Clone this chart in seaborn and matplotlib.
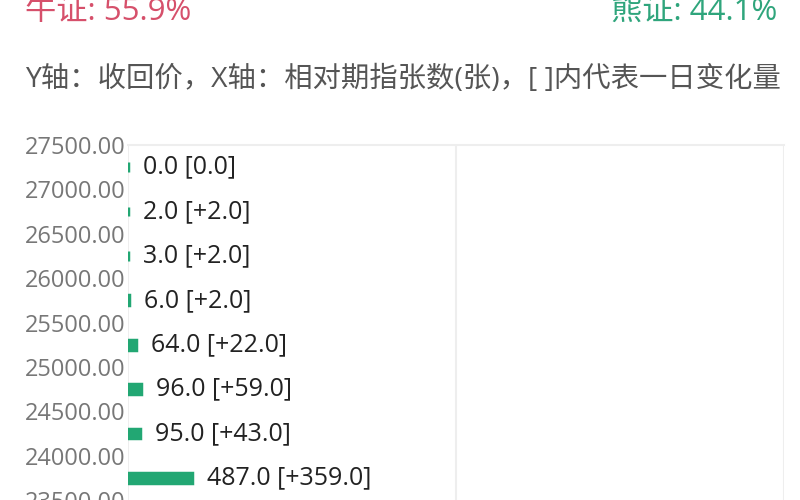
import numpy as np
import pandas as pd
import seaborn as sns
import matplotlib.pyplot as plt

sns.set_theme(style="white")
plt.rcParams['font.family'] = ['Open Sans', 'Noto Sans CJK SC', 'DejaVu Sans']

# strike levels (midpoints between ticks), contract counts, one-day change
strikes = [27250, 26750, 26250, 25750, 25250, 24750, 24250, 23750]
counts = [0.0, 2.0, 3.0, 6.0, 64.0, 96.0, 95.0, 487.0]
changes = [0.0, 2.0, 2.0, 2.0, 22.0, 59.0, 43.0, 359.0]
yticks = [23500, 24000, 24500, 25000, 25500, 26000, 26500, 27000, 27500]
bull_txt = "牛证: 55.9%"
bear_txt = "熊证: 44.1%"
subtitle = "Y轴：收回价，X轴：相对期指张数(张)，[ ]内代表一日变化量"

df = pd.DataFrame({'strike': strikes, 'count': counts, 'change': changes})

fig = plt.figure(figsize=(8, 5), dpi=100)
ax = fig.add_axes([0.16, 0.0, 0.82, 0.71])

sns.barplot(data=df, x='count', y='strike', orient='h', native_scale=True,
            width=0.22, color='#22a773', edgecolor='#22a773', linewidth=2.5,
            saturation=1, ax=ax)

for s, c, d in zip(strikes, counts, changes):
    sign = '+' if d > 0 else ''
    ax.annotate(f"{c:.1f} [{sign}{d:.1f}]", (c, s), xytext=(15, 0),
                textcoords='offset pixels', va='center', ha='left',
                fontsize=18, color='#222222')

ax.set_xlim(0, 5000)
ax.set_ylim(23500, 27500)
ax.set_xticks([0, 2500, 5000])
ax.set_xticklabels([])
ax.set_yticks(yticks)
ax.set_yticklabels([f"{t:.2f}" for t in yticks])
ax.tick_params(axis='y', labelsize=17, labelcolor='#777777', length=0, pad=2)
ax.tick_params(axis='x', length=0)
ax.set_xlabel('')
ax.set_ylabel('')
ax.grid(axis='x', color='#eeeeee', linewidth=1.5)
for side in ['bottom', 'right', 'left']:
    ax.spines[side].set_visible(False)
ax.spines['top'].set_color('#eeeeee')
ax.spines['top'].set_linewidth(1.5)

fig.text(0.031, 0.96, bull_txt, color='#d6506b', fontsize=22.5, va='baseline', ha='left')
fig.text(0.971, 0.96, bear_txt, color='#2fa57c', fontsize=22.5, va='baseline', ha='right')
fig.text(0.031, 0.826, subtitle, color='#555555', fontsize=20.4, va='baseline', ha='left')

fig.savefig('out.png', dpi=100)
